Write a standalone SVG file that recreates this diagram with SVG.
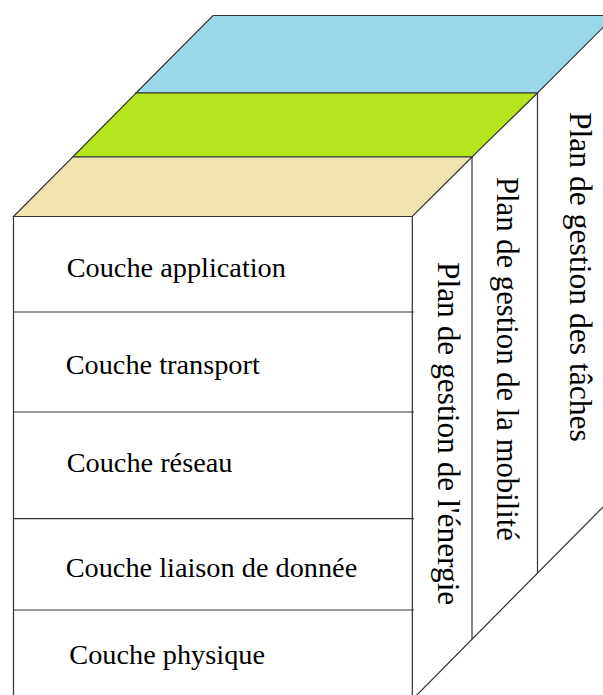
<svg xmlns="http://www.w3.org/2000/svg" width="603" height="695" viewBox="0 0 603 695">
<style>
.ln{stroke:#333;stroke-width:1.2;fill:none}
.face{stroke:#333;stroke-width:1.2}
.t{font-family:"Liberation Serif","Times New Roman",serif;font-size:28.3px;fill:#000}
.v{font-family:"Liberation Serif","Times New Roman",serif;font-size:31.4px;fill:#000}
</style>
<rect width="603" height="695" fill="#fff"/>
<g id="top">
<polygon class="face" fill="#99D9EA" points="136,93 537.5,93 615,15.5 213,15.5"/>
<polygon class="face" fill="#B5E61D" points="72.7,157 472,157 537.5,93 136,93"/>
<polygon class="face" fill="#EFE4B0" points="13.5,216.5 412.3,216.5 472,157 72.7,157"/>
</g>
<g id="front">
<line class="ln" x1="13.5" y1="216.5" x2="13.5" y2="700"/>
<line class="ln" x1="412.3" y1="216.5" x2="412.3" y2="700"/>
<line class="ln" x1="13.5" y1="312" x2="414" y2="312"/>
<line class="ln" x1="13.5" y1="412" x2="414" y2="412"/>
<line class="ln" x1="13.5" y1="518.7" x2="414" y2="518.7"/>
<line class="ln" x1="13.5" y1="610" x2="414" y2="610"/>
</g>
<g id="side">
<line class="ln" x1="472" y1="157" x2="472" y2="639.5"/>
<line class="ln" x1="537.5" y1="93" x2="537.5" y2="573.5"/>
<line class="ln" x1="405" y1="707" x2="606" y2="504"/>
</g>
<g id="layer-application"><text class="t" x="66.7" y="277.3">Couche application</text></g>
<g id="layer-transport"><text class="t" x="65.7" y="374">Couche transport</text></g>
<g id="layer-reseau"><text class="t" x="66.7" y="471.7">Couche réseau</text></g>
<g id="layer-liaison"><text class="t" x="65.7" y="577.3">Couche liaison de donnée</text></g>
<g id="layer-physique"><text class="t" x="69.3" y="664">Couche physique</text></g>
<g id="plan-energie"><text class="v" transform="translate(438.3,262) rotate(90)">Plan de gestion de l'énergie</text></g>
<g id="plan-mobilite"><text class="v" transform="translate(496.7,177) rotate(90)" style="font-size:30.7px">Plan de gestion de la mobilité</text></g>
<g id="plan-taches"><text class="v" transform="translate(569.5,112) rotate(90)" style="font-size:31.6px">Plan de gestion des tâches</text></g>
</svg>
